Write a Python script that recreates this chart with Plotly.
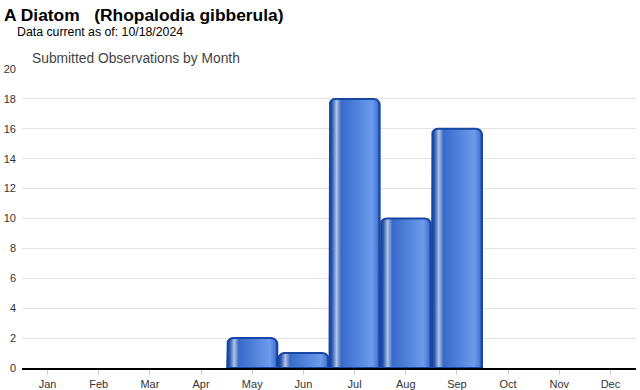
import numpy as np
import plotly.graph_objects as go

months = ["Jan", "Feb", "Mar", "Apr", "May", "Jun", "Jul", "Aug", "Sep", "Oct", "Nov", "Dec"]
counts = [0, 0, 0, 0, 2, 1, 18, 10, 16, 0, 0, 0]
y_ticks = list(range(0, 21, 2))

L, R, T, B = 22, 4, 69, 22
W, H = 640, 390
pw, ph = W - L - R, H - T - B
ymax = 20
px_x = pw / 12.0
px_y = ph / ymax

grad = [[0.0, "#1a46a0"], [0.05, "#2856b2"], [0.14, "#b3c4e0"], [0.23, "#386ac9"],
        [0.55, "#5283dc"], [0.85, "#6c9bec"], [0.95, "#4a7bd6"], [1.0, "#1a46a0"]]

fig = go.Figure()
half = 0.49
r_px = 6
for i, v in enumerate(counts):
    if v <= 0:
        continue
    rx = r_px / px_x
    ry = min(r_px / px_y, v / 2)
    x0, x1 = i - half, i + half
    xs, ys = [x0], [0]
    t = np.linspace(np.pi, np.pi / 2, 8)
    xs += list(x0 + rx + rx * np.cos(t)); ys += list(v - ry + ry * np.sin(t))
    t = np.linspace(np.pi / 2, 0, 8)
    xs += list(x1 - rx + rx * np.cos(t)); ys += list(v - ry + ry * np.sin(t))
    xs += [x1, x0]; ys += [0, 0]
    fig.add_trace(go.Scatter(
        x=xs, y=ys, mode="lines", fill="toself",
        fillgradient=dict(type="horizontal", colorscale=grad),
        line=dict(color="#1846a2", width=2), hoverinfo="skip", showlegend=False))

fig.update_xaxes(range=[-0.5, 11.5], tickvals=list(range(12)), ticktext=months,
                 showgrid=False, zeroline=False, showline=True, linecolor="#000000",
                 linewidth=2, ticks="outside", ticklen=5, tickcolor="#cccccc",
                 automargin=False,
                 tickfont=dict(family="Arial, Liberation Sans", size=11, color="#333333"))
fig.update_yaxes(range=[0, ymax], tickvals=y_ticks, showgrid=True, gridcolor="#e3e3e3",
                 zeroline=False, showline=False, ticks="", automargin=False,
                 ticklabelstandoff=5,
                 tickfont=dict(family="Arial, Liberation Sans", size=11, color="#333333"))

def ax(px):
    return (px - L) / pw

def ay(py):
    return (T + ph - py) / ph

fig.add_annotation(text="<b>A Diatom   (Rhopalodia gibberula)</b>", xref="paper", yref="paper",
                   x=ax(2), y=ay(15), xanchor="left", yanchor="middle", showarrow=False,
                   font=dict(family="Arial, Liberation Sans", size=17.4, color="#000000"))
fig.add_annotation(text="Data current as of: 10/18/2024", xref="paper", yref="paper",
                   x=ax(15), y=ay(32), xanchor="left", yanchor="middle", showarrow=False,
                   font=dict(family="Arial, Liberation Sans", size=12.3, color="#000000"))
fig.add_annotation(text="Submitted Observations by Month", xref="paper", yref="paper",
                   x=ax(30), y=ay(58), xanchor="left", yanchor="middle", showarrow=False,
                   font=dict(family="Arial, Liberation Sans", size=13.8, color="#444444"))

fig.update_layout(width=W, height=H, margin=dict(l=L, r=R, t=T, b=B),
                  plot_bgcolor="#ffffff", paper_bgcolor="#ffffff", showlegend=False)
fig.write_html("out.html", config={"displayModeBar": False},
               post_script="document.body.style.margin='0';")
